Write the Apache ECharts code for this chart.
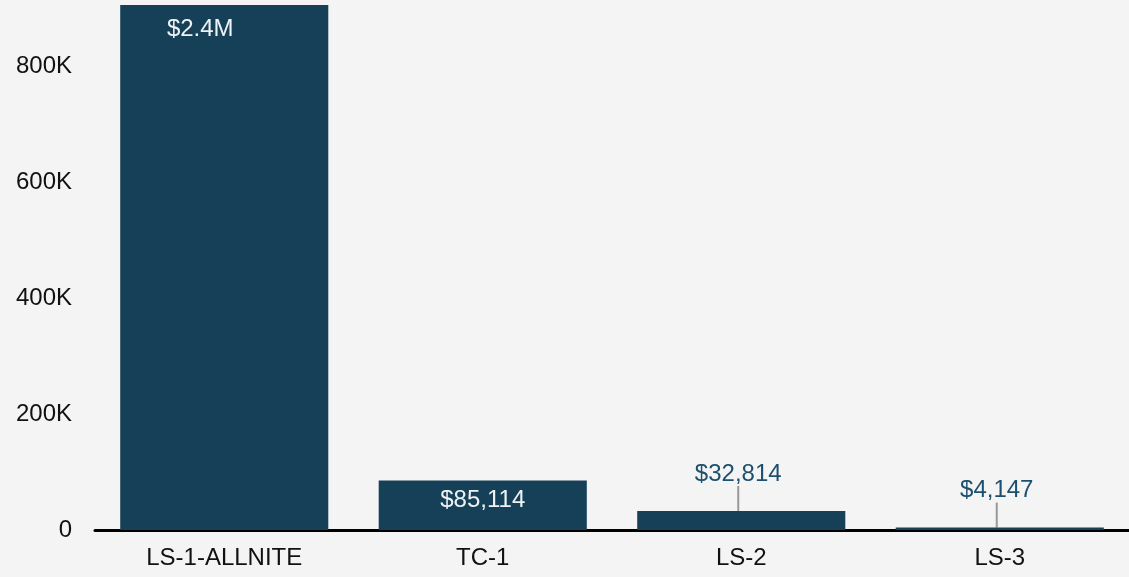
<!DOCTYPE html>
<html>
<head>
<meta charset="utf-8">
<script src="https://cdn.jsdelivr.net/npm/echarts@6/dist/echarts.min.js"></script>
<style>
html, body { margin: 0; padding: 0; background: #f4f4f4; }
#chart { width: 1129px; height: 577px; }
</style>
</head>
<body>
<div id="chart"></div>
<script>
// 数据
var categories = ['LS-1-ALLNITE', 'TC-1', 'LS-2', 'LS-3'];
var revenue = [2400000, 85114, 32814, 4147];
var yTicks = [0, 200000, 400000, 600000, 800000];

var myChart = echarts.init(document.getElementById('chart'));

function money(v) {
    if (v >= 1000000) return '$' + (v / 1000000).toFixed(1) + 'M';
    return '$' + v.toLocaleString('en-US');
}

// 大的柱子标签在里面，小的放上面加引线
var barData = revenue.map(function (v, i) {
    var inside = i < 2;
    return {
        value: v,
        label: inside ? {
            position: 'insideTop',
            distance: i === 0 ? 12 : 8,
            color: '#eef2f5'
        } : {
            position: 'top',
            distance: 5,
            color: '#1d4f6e'
        }
    };
});

var option = {
    backgroundColor: '#f4f4f4',
    animation: false,
    textStyle: { fontFamily: '"Liberation Sans", Arial, sans-serif' },
    grid: { left: 95, right: 0, top: 5, bottom: 47 },
    xAxis: {
        type: 'category',
        data: categories,
        axisLine: { lineStyle: { color: '#000', width: 3 } },
        axisTick: { show: false },
        axisLabel: { color: '#111', fontSize: 24, margin: 16 }
    },
    yAxis: {
        type: 'value',
        min: 0,
        max: 905000,
        interval: 200000,
        splitLine: { show: false },
        axisLine: { show: false },
        axisTick: { show: false },
        axisLabel: {
            color: '#111',
            fontSize: 24,
            margin: 23,
            showMaxLabel: false,
            formatter: function (v) {
                if (yTicks.indexOf(v) < 0) return '';
                return v === 0 ? '0' : (v / 1000) + 'K';
            }
        }
    },
    series: [{
        type: 'bar',
        data: barData,
        barWidth: '80.5%',
        itemStyle: { color: '#164058' },
        label: {
            show: true,
            fontSize: 24,
            formatter: function (p) { return money(p.value); }
        },
        labelLayout: function (params) {
            if (params.dataIndex === 0) return { dx: -24 };
            if (params.dataIndex >= 2) return { dx: -3, dy: -20 };
            return {};
        },
        labelLine: {
            show: true,
            lineStyle: { color: '#999', width: 2 }
        }
    }]
};

myChart.setOption(option);
</script>
</body>
</html>
